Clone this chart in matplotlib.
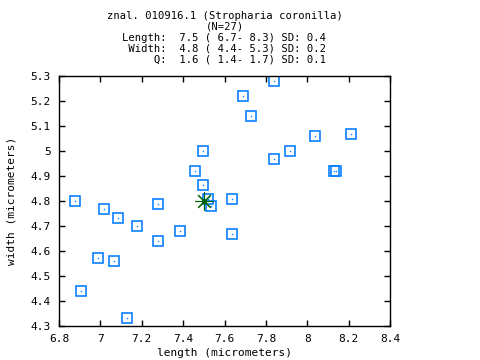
import matplotlib
matplotlib.use("Agg")
import matplotlib.pyplot as plt

# spore measurements (micrometers)
length = [6.877, 6.908, 7.019, 6.987, 7.087, 7.067, 7.127, 7.178, 7.28, 7.28,
          7.386, 7.638, 7.638, 7.537, 7.518, 7.497, 7.459, 7.497, 7.691, 7.73,
          7.841, 7.841, 7.918, 8.039, 8.213, 8.131, 8.138]
width = [4.80, 4.44, 4.767, 4.571, 4.731, 4.56, 4.332, 4.699, 4.787, 4.639,
         4.679, 4.807, 4.667, 4.78, 4.808, 4.865, 4.919, 4.999, 5.219, 5.139,
         5.279, 4.967, 4.999, 5.059, 5.067, 4.919, 4.919]
mean_point = (7.5, 4.8)

title_lines = [
    "znal. 010916.1 (Stropharia coronilla)",
    "(N=27)",
    "Length:  7.5 ( 6.7- 8.3) SD: 0.4",
    " Width:  4.8 ( 4.4- 5.3) SD: 0.2",
    "     Q:  1.6 ( 1.4- 1.7) SD: 0.1",
]
xticks = [6.8, 7, 7.2, 7.4, 7.6, 7.8, 8, 8.2, 8.4]
yticks = [4.3, 4.4, 4.5, 4.6, 4.7, 4.8, 4.9, 5, 5.1, 5.2, 5.3]

mono = "DejaVu Sans Mono"
fs = 8
blue = "#0a80ff"
green = "#006400"

fig = plt.figure(figsize=(4.8, 3.6), dpi=100)
ax = fig.add_axes([59 / 480, 34 / 360, 331 / 480, 250 / 360])

ax.plot(length, width, linestyle="none", marker="s", markersize=7.4,
        markerfacecolor="none", markeredgecolor=blue, markeredgewidth=1.2)
ax.plot(length, width, linestyle="none", marker="s", markersize=1.0,
        markerfacecolor=blue, markeredgecolor=blue, markeredgewidth=0)

ax.plot([mean_point[0]], [mean_point[1]], linestyle="none", marker=(8, 2, 0),
        markersize=13, markeredgecolor=green, markeredgewidth=0.8, color=green)
ax.plot([mean_point[0]], [mean_point[1]], linestyle="none", marker="o",
        markersize=2.5, color=green)

ax.set_xlim(6.8, 8.4)
ax.set_ylim(4.3, 5.3)
ax.set_xticks(xticks)
ax.set_xticklabels([f"{t:g}" for t in xticks], family=mono, fontsize=fs)
ax.set_yticks(yticks)
ax.set_yticklabels([f"{t:g}" for t in yticks], family=mono, fontsize=fs)
ax.tick_params(direction="in", length=4, width=1, top=True, right=True,
               pad=6)
for s in ax.spines.values():
    s.set_linewidth(1.0)

ax.set_xlabel("length (micrometers)", family=mono, fontsize=fs, labelpad=3)
ax.set_ylabel("width (micrometers)", family=mono, fontsize=fs, labelpad=10)

# multi-line header, each line centred over the plot
cx = (59 + 390) / 2 / 480
for i, line in enumerate(title_lines):
    y = 1 - (16 + i * 10.9) / 360
    fig.text(cx, y, line, family=mono, fontsize=7.6, ha="center", va="center")

fig.savefig("out.png", dpi=100)
